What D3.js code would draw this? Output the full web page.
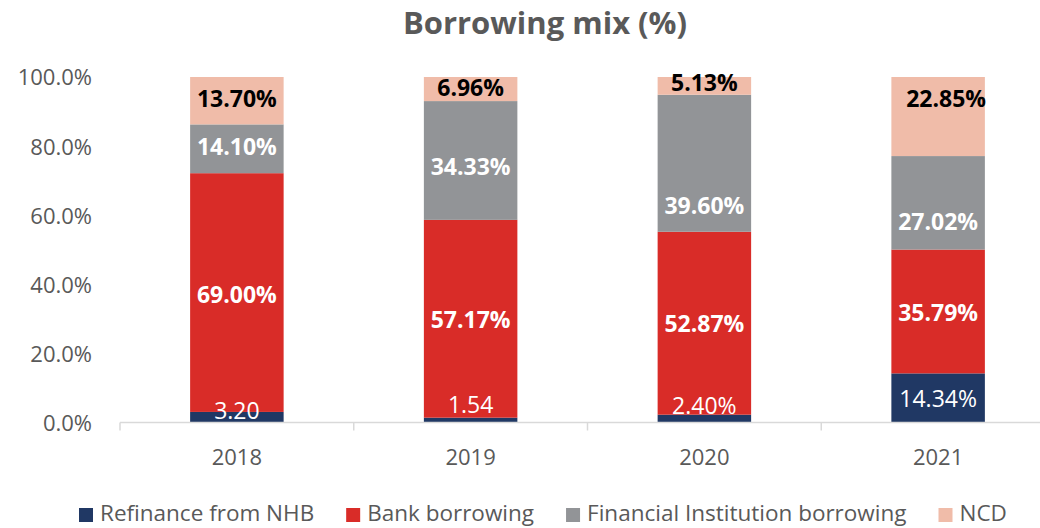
<!DOCTYPE html>
<html>
<head>
<meta charset="utf-8">
<script src="https://cdn.jsdelivr.net/npm/d3@7"></script>
<style>
  html, body { margin: 0; padding: 0; background: #fff; }
  svg { display: block; font-family: "Open Sans", sans-serif; }
</style>
</head>
<body>
<svg id="chart" width="1040" height="528"></svg>
<script>
// Borrowing mix by year, share of total borrowings (%)
const years = ["2018", "2019", "2020", "2021"];
const seriesNames = ["Refinance from NHB", "Bank borrowing", "Financial Institution borrowing", "NCD"];
const refinanceNHB = [3.20, 1.54, 2.40, 14.34];
const bankBorrowing = [69.00, 57.17, 52.87, 35.79];
const fiBorrowing = [14.10, 34.33, 39.60, 27.02];
const ncd = [13.70, 6.96, 5.13, 22.85];
const yTicks = [0, 20, 40, 60, 80, 100];

// Label text as published (NHB labels are written without a % in the first two years)
const nhbLabels = ["3.20", "1.54", "2.40%", "14.34%"];

const colors = ["#203864", "#d92c28", "#929497", "#f0bca9"];
const textColor = "#595959";

const seriesValues = [refinanceNHB, bankBorrowing, fiBorrowing, ncd];
const rows = years.map((yr, i) => {
  const r = { year: yr };
  seriesNames.forEach((s, k) => r[s] = seriesValues[k][i]);
  return r;
});

const svg = d3.select("#chart");
const x = d3.scaleBand().domain(years).range([120, 1055]).paddingInner(0.6).paddingOuter(0.3);
const y = d3.scaleLinear().domain([0, 100]).range([423, 77]);

// Title
svg.append("text")
  .attr("x", 545).attr("y", 34)
  .attr("text-anchor", "middle")
  .attr("font-size", 31).attr("font-weight", 700)
  .attr("fill", textColor)
  .text("Borrowing mix (%)");

// Y axis labels (no axis line)
const yAxis = svg.append("g").attr("transform", "translate(100,0)")
  .call(d3.axisLeft(y).tickValues(yTicks).tickSize(0).tickPadding(8).tickFormat(d => d.toFixed(1) + "%"));
yAxis.select(".domain").remove();
yAxis.selectAll("text")
  .attr("font-size", 22).attr("fill", textColor)
  .attr("font-family", "'Open Sans', sans-serif")
  .attr("dy", "0.36em");

// Stacked bars
const stack = d3.stack().keys(seriesNames)(rows);
const layers = svg.append("g").selectAll("g").data(stack).join("g")
  .attr("fill", (d, i) => colors[i]);
layers.selectAll("rect").data(d => d).join("rect")
  .attr("x", d => x(d.data.year))
  .attr("width", x.bandwidth())
  .attr("y", d => y(d[1]))
  .attr("height", d => y(d[0]) - y(d[1]));

// X axis: baseline with ticks between categories
const step = x.step();
const axisY = y(0) - 0.5;
svg.append("line")
  .attr("x1", 120).attr("x2", 1040).attr("y1", axisY).attr("y2", axisY)
  .attr("stroke", "#d9d9d9").attr("stroke-width", 1.5);
d3.range(0, years.length).forEach(k => {
  const tx = 120 + k * step;
  svg.append("line")
    .attr("x1", tx).attr("x2", tx).attr("y1", axisY).attr("y2", axisY + 8)
    .attr("stroke", "#d9d9d9").attr("stroke-width", 1.5);
});
svg.append("g").selectAll("text").data(years).join("text")
  .attr("x", d => x(d) + x.bandwidth() / 2)
  .attr("y", 465)
  .attr("text-anchor", "middle")
  .attr("font-size", 22).attr("fill", textColor)
  .text(d => d);

// Segment labels, nudged where the source layout moved them off-centre
const nudge = {
  "0-0": [0, -7], "0-1": [0, -16], "0-2": [0, -13], "0-3": [0, 1],
  "1-0": [0, 2], "1-1": [0, 1], "1-2": [0, 0], "1-3": [0, 1],
  "2-0": [0, -2], "2-1": [0, 6], "2-2": [0, 42], "2-3": [0, 19],
  "3-0": [0, -2], "3-1": [0, -1], "3-2": [0, -3], "3-3": [8, -18]
};
stack.forEach((layer, k) => {
  layer.forEach((d, i) => {
    const n = nudge[k + "-" + i] || [0, 0];
    const cx = x(d.data.year) + x.bandwidth() / 2 + n[0];
    const cy = (y(d[0]) + y(d[1])) / 2 + n[1];
    const label = k === 0 ? nhbLabels[i] : d.data[seriesNames[k]].toFixed(2) + "%";
    svg.append("text")
      .attr("x", cx).attr("y", cy)
      .attr("dy", "0.36em")
      .attr("text-anchor", "middle")
      .attr("font-size", 23)
      .attr("font-weight", k === 0 ? 400 : 700)
      .attr("fill", k === 3 ? "#000" : "#fff")
      .text(label);
  });
});

// Legend
const legend = svg.append("g").attr("transform", "translate(0,514)");
let lx = 79;
seriesNames.forEach((s, k) => {
  const g = legend.append("g").attr("transform", `translate(${lx},0)`);
  g.append("rect").attr("x", 0).attr("y", -6).attr("width", 14).attr("height", 14).attr("fill", colors[k]);
  const t = g.append("text").attr("x", 21).attr("y", 0).attr("dy", "0.33em")
    .attr("font-size", 22.5).attr("fill", textColor).text(s);
  lx += 21 + t.node().getComputedTextLength() + 32;
});
</script>
</body>
</html>
